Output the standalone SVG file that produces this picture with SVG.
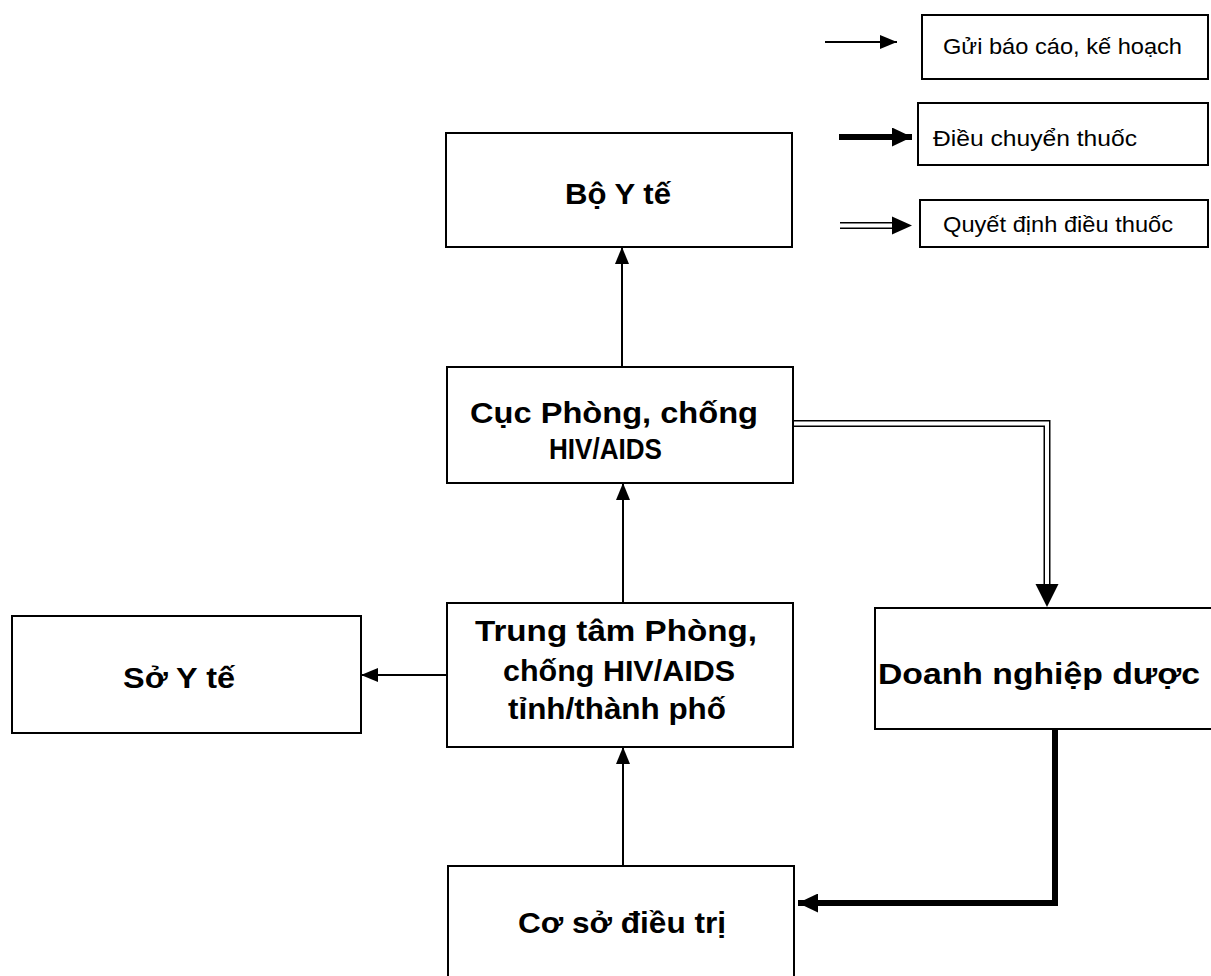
<svg xmlns="http://www.w3.org/2000/svg" width="1211" height="976" viewBox="0 0 1211 976">
<defs>
<style>
.box{fill:#fff;stroke:#000;stroke-width:2}
.node{font-family:"Liberation Sans",Arial,sans-serif;font-weight:bold;font-size:29px;fill:#000}
.leg{font-family:"Liberation Sans",Arial,sans-serif;font-size:22px;fill:#000}
.thin{fill:none;stroke:#000;stroke-width:2}
.thick{fill:none;stroke:#000;stroke-width:6;stroke-linejoin:miter}
.dblo{fill:none;stroke:#000;stroke-width:7}
.dbli{fill:none;stroke:#fff;stroke-width:4}
</style>
<marker id="ahThin" markerUnits="userSpaceOnUse" viewBox="0 0 17 14" refX="17" refY="7" markerWidth="17" markerHeight="14" orient="auto">
<path d="M0,0 L17,7 L0,14 Z" fill="#000"/>
</marker>
<marker id="ahThick" markerUnits="userSpaceOnUse" viewBox="0 0 20 19" refX="20" refY="9.5" markerWidth="20" markerHeight="19" orient="auto">
<path d="M0,0 L20,9.5 L0,19 Z" fill="#000"/>
</marker>
</defs>
<rect width="1211" height="976" fill="#fff"/>

<g id="legend">
<line class="thin" x1="825" y1="42" x2="897" y2="42" marker-end="url(#ahThin)"/>
<rect class="box" x="922" y="15" width="286" height="64"/>
<text class="leg" x="943" y="54" textLength="239" lengthAdjust="spacingAndGlyphs">Gửi báo cáo, kế hoạch</text>
<line class="thick" x1="839" y1="137" x2="912" y2="137" marker-end="url(#ahThick)"/>
<rect class="box" x="918" y="103" width="290" height="62"/>
<text class="leg" x="933" y="146" textLength="204" lengthAdjust="spacingAndGlyphs">Điều chuyển thuốc</text>
<line class="dblo" x1="840" y1="225.5" x2="894" y2="225.5"/>
<line class="dbli" x1="838" y1="225.5" x2="894" y2="225.5"/>
<path d="M892,216.5 L912,225.5 L892,234.5 Z" fill="#000"/>
<rect class="box" x="920" y="200" width="288" height="47"/>
<text class="leg" x="943" y="232" textLength="230" lengthAdjust="spacingAndGlyphs">Quyết định điều thuốc</text>
</g>

<g id="node-boyte">
<rect class="box" x="446" y="133" width="346" height="114"/>
<text class="node" x="565" y="204" textLength="106" lengthAdjust="spacingAndGlyphs">Bộ Y tế</text>
</g>

<g id="node-cuc">
<rect class="box" x="447" y="367" width="346" height="116"/>
<text class="node" x="470" y="423" textLength="288" lengthAdjust="spacingAndGlyphs">Cục Phòng, chống</text>
<text class="node" x="549" y="459" textLength="113" lengthAdjust="spacingAndGlyphs">HIV/AIDS</text>
</g>

<g id="node-trungtam">
<rect class="box" x="447" y="603" width="346" height="144"/>
<text class="node" x="475" y="641" textLength="282" lengthAdjust="spacingAndGlyphs">Trung tâm Phòng,</text>
<text class="node" x="503" y="681" textLength="232" lengthAdjust="spacingAndGlyphs">chống HIV/AIDS</text>
<text class="node" x="508" y="719" textLength="218" lengthAdjust="spacingAndGlyphs">tỉnh/thành phố</text>
</g>

<g id="node-soyte">
<rect class="box" x="12" y="616" width="349" height="117"/>
<text class="node" x="123" y="688" textLength="112" lengthAdjust="spacingAndGlyphs">Sở Y tế</text>
</g>

<g id="node-doanhnghiep">
<rect class="box" x="875" y="608" width="360" height="121"/>
<text class="node" x="878" y="684" textLength="322" lengthAdjust="spacingAndGlyphs">Doanh nghiệp dược</text>
</g>

<g id="node-coso">
<rect class="box" x="448" y="866" width="346" height="130"/>
<text class="node" x="518" y="933" textLength="208" lengthAdjust="spacingAndGlyphs">Cơ sở điều trị</text>
</g>

<g id="connectors">
<line class="thin" x1="622" y1="367" x2="622" y2="247" marker-end="url(#ahThin)"/>
<line class="thin" x1="623" y1="603" x2="623" y2="483" marker-end="url(#ahThin)"/>
<line class="thin" x1="623" y1="866" x2="623" y2="747" marker-end="url(#ahThin)"/>
<line class="thin" x1="447" y1="675" x2="361" y2="675" marker-end="url(#ahThin)"/>
<path class="dblo" d="M793,423.5 H1047 V586"/>
<path class="dbli" d="M794,423.5 H1047 V588"/>
<path d="M1035.5,584 L1058.5,584 L1047,607 Z" fill="#000"/>
<path class="thick" d="M1055,729 V903 H798" marker-end="url(#ahThick)"/>
</g>
</svg>
